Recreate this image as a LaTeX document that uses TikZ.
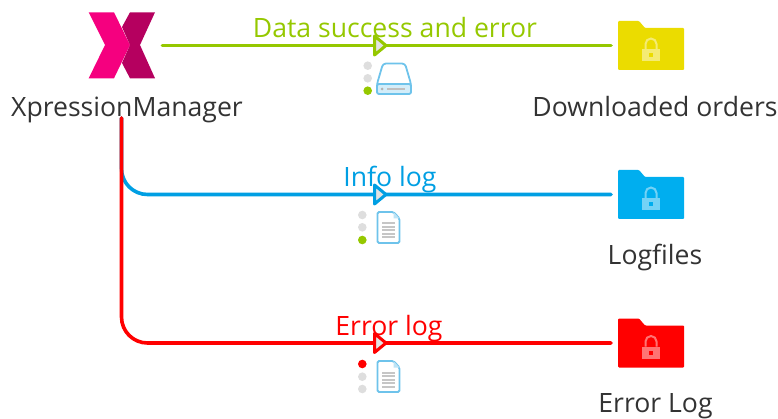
\documentclass[tikz,border=0pt]{standalone}
\usepackage{fontspec}
\setmainfont{Open Sans}
\usepackage{xcolor}
\definecolor{datagreen}{RGB}{149,200,0}
\definecolor{infoblue}{RGB}{0,159,227}
\definecolor{errorred}{RGB}{255,0,0}
\definecolor{labelgray}{RGB}{51,51,51}
\definecolor{dotgray}{RGB}{222,222,222}
\definecolor{iconblue}{RGB}{110,195,235}
\definecolor{logopink}{RGB}{245,0,127}
\definecolor{logodark}{RGB}{181,0,95}
\definecolor{folderyellow}{RGB}{235,220,0}
\definecolor{folderblue}{RGB}{0,174,239}
\usetikzlibrary{positioning}
\usetikzlibrary{calc}
\tikzset{
  wirelabel/.style={anchor=base,inner sep=0,outer sep=0,font=\fontsize{26.6}{26.6}\selectfont},
  boxlabel/.style={anchor=base,inner sep=0,outer sep=0,text=labelgray,font=\fontsize{26.6}{26.6}\selectfont},
  wire/.style={line width=3.6pt,line cap=round},
  folderbox/.style={inner sep=0,outer sep=0,minimum width=66pt,minimum height=49pt},
  flowtip/.pic={
    \path [draw=#1,fill=gray!22,line width=3pt,line join=round] (-4.5,-9.5) -- (7,0) -- (-4.5,9.5) -- cycle;
  },
  folder/.pic={
    \path [fill=#1,rounded corners=1pt] (-33,-24.5) -- (-12,-24.5) -- (-6,-17.5) -- (33,-17.5) -- (33,24.5) -- (-33,24.5) -- cycle;
    \path [fill=white,fill opacity=0.45] (-9,3.5) rectangle (9,16);
    \draw [white,opacity=0.45,line width=2pt] (-5.5,3.5) -- (-5.5,-1.5) arc (180:360:5.5) -- (5.5,3.5);
    \path [fill=#1] (-1.8,8) rectangle (1.8,11.5);
  },
  docicon/.pic={
    \path [draw=iconblue,fill=white,line width=1.8pt,rounded corners=1.5pt] (-11,-15.5) -- (5,-15.5) -- (11,-9) -- (11,15.5) -- (-11,15.5) -- cycle;
    \path [fill=iconblue!45] (5,-15.5) -- (11,-9) -- (5,-9) -- cycle;
    \foreach \y in {-4,-0.5,3,6.5,10}{
      \draw [gray!45,line width=2pt] (-6.5,\y) -- (6.5,\y);
    }
  },
}
\begin{document}
\begin{tikzpicture}[x=1pt,y=-1pt]
\useasboundingbox (0,0) rectangle (778,419);
%logo
\fill [logopink] (88.7,12.3) -- (114,12.3) -- (130,45) -- (114,78.3) -- (88.7,78.3) -- (105,45) -- cycle;
\fill [logodark] (155,12.3) -- (130,12.3) -- (122,27) -- (130,45) -- (122,63) -- (130,78.3) -- (155,78.3) -- (140,45) -- cycle;
\node (logo) at (121.8,45.3) [inner sep=0,outer sep=0,minimum width=67pt,minimum height=66pt] {};
\node (manager) at (127,116.7) [boxlabel] {XpressionManager};
\coordinate (managerout) at (121.5,118);

%target folders
\node (orders) at (651,45.5) [folderbox] {};
\node (logfiles) at (651,194.5) [folderbox] {};
\node (errorlog) at (651,343) [folderbox] {};
\pic at (orders) {folder=folderyellow};
\pic at (logfiles) {folder=folderblue};
\pic at (errorlog) {folder=errorred};
\node (ordersname) at (655,116.7) [boxlabel] {Downloaded orders};
\node (logfilesname) at (655,265) [boxlabel] {Logfiles};
\node (errorlogname) at (655.5,412.4) [boxlabel] {Error Log};

%wires
\draw [wire,datagreen,shorten <=7pt,shorten >=7pt] (logo.east |- orders) -- (orders.west);
\draw [wire,infoblue,rounded corners=26pt,shorten >=7pt] (managerout) |- (logfiles.west);
\draw [wire,errorred,rounded corners=26pt,shorten >=7pt] (managerout) |- (errorlog.west);

%arrow marks on the wires
\pic at (379,45.5) {flowtip=datagreen};
\pic at (379,194.5) {flowtip=infoblue};
\pic at (379,343) {flowtip=errorred};

%wire labels
\node (datalabel) at (395,37.3) [wirelabel,text=datagreen] {Data success and error};
\node (infolabel) at (390,186.7) [wirelabel,text=infoblue] {Info log};
\node (errorlabel) at (389,335.5) [wirelabel,text=errorred] {Error log};

%status dots
\fill [dotgray] (367.7,65.7) circle (4.3);
\fill [dotgray] (367.7,78.3) circle (4.3);
\fill [datagreen] (367.7,90.7) circle (4.3);
\fill [dotgray] (362.3,215) circle (4.3);
\fill [dotgray] (362.3,227.3) circle (4.3);
\fill [datagreen] (362.3,240) circle (4.3);
\fill [errorred] (362.3,364) circle (4.3);
\fill [dotgray] (362.3,376.7) circle (4.3);
\fill [dotgray] (362.3,389) circle (4.3);

%disk and documents
\path [draw=iconblue,fill=white,line width=1.8pt,rounded corners=3pt] (377,84) -- (383,63.5) -- (405,63.5) -- (411,84) -- (411,94) -- (377,94) -- cycle;
\path [draw=iconblue,fill=iconblue!30,line width=1.8pt,rounded corners=2pt] (377,84) -- (411,84) -- (411,94) -- (377,94) -- cycle;
\fill [gray!60] (382,89) circle (1.5);
\draw [gray!50,line width=1.6pt] (387,89) -- (405,89);
\pic at (388.5,227.5) {docicon};
\pic at (388.5,376.5) {docicon};
\end{tikzpicture}
\end{document}
